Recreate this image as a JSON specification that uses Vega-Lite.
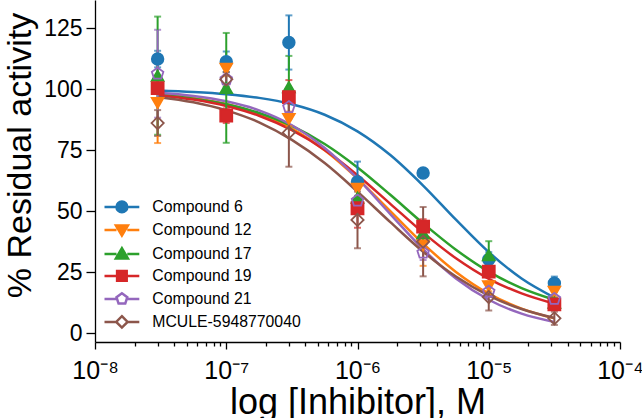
{
  "$schema": "https://vega.github.io/schema/vega-lite/v6.json",
  "autosize": "none",
  "width": 525,
  "height": 342,
  "padding": {"left": 95, "top": 0, "right": 22, "bottom": 76},
  "config": {
    "font": "Liberation Sans",
    "view": {"stroke": null},
    "axis": {"grid": false, "domainColor": "black", "domainWidth": 1.3, "tickColor": "black", "tickWidth": 1.3, "labelColor": "black", "titleColor": "black", "labelFont": "Liberation Sans", "titleFont": "Liberation Sans", "titleFontWeight": "normal"}
  },
  "datasets": {
    "pts": [
      {"c": "Compound 6", "x": 3e-8, "y": 112.3, "e": 3.4},
      {"c": "Compound 6", "x": 1e-7, "y": 111.2, "e": 4.2},
      {"c": "Compound 6", "x": 3e-7, "y": 119.1, "e": 11.1},
      {"c": "Compound 6", "x": 1e-6, "y": 62.0, "e": 8.3},
      {"c": "Compound 6", "x": 3.162e-6, "y": 65.6, "e": 1.0},
      {"c": "Compound 6", "x": 1e-5, "y": 30.2, "e": 3.0},
      {"c": "Compound 6", "x": 3.162e-5, "y": 20.5, "e": 2.7},
      {"c": "Compound 12", "x": 3e-8, "y": 94.3, "e": 16.4},
      {"c": "Compound 12", "x": 1e-7, "y": 108.3, "e": 3.0},
      {"c": "Compound 12", "x": 3e-7, "y": 87.8, "e": 3.0},
      {"c": "Compound 12", "x": 1e-6, "y": 59.2, "e": 3.0},
      {"c": "Compound 12", "x": 3.162e-6, "y": 36.0, "e": 8.4},
      {"c": "Compound 12", "x": 1e-5, "y": 19.2, "e": 2.0},
      {"c": "Compound 12", "x": 3.162e-5, "y": 17.0, "e": 2.0},
      {"c": "Compound 17", "x": 3e-8, "y": 105.5, "e": 24.2},
      {"c": "Compound 17", "x": 1e-7, "y": 100.5, "e": 22.5},
      {"c": "Compound 17", "x": 3e-7, "y": 100.8, "e": 12.8},
      {"c": "Compound 17", "x": 1e-6, "y": 55.5, "e": 4.0},
      {"c": "Compound 17", "x": 3.162e-6, "y": 41.0, "e": 2.0},
      {"c": "Compound 17", "x": 1e-5, "y": 32.0, "e": 5.7},
      {"c": "Compound 17", "x": 3.162e-5, "y": 12.5, "e": 2.0},
      {"c": "Compound 19", "x": 3e-8, "y": 100.4, "e": 2.0},
      {"c": "Compound 19", "x": 1e-7, "y": 89.1, "e": 3.0},
      {"c": "Compound 19", "x": 3e-7, "y": 96.7, "e": 7.0},
      {"c": "Compound 19", "x": 1e-6, "y": 51.2, "e": 8.0},
      {"c": "Compound 19", "x": 3.162e-6, "y": 43.7, "e": 3.0},
      {"c": "Compound 19", "x": 1e-5, "y": 25.2, "e": 2.0},
      {"c": "Compound 19", "x": 3.162e-5, "y": 11.8, "e": 2.0},
      {"c": "Compound 21", "x": 3e-8, "y": 106.3, "e": 18.0},
      {"c": "Compound 21", "x": 1e-7, "y": 104.0, "e": 2.0},
      {"c": "Compound 21", "x": 3e-7, "y": 92.6, "e": 3.0},
      {"c": "Compound 21", "x": 1e-6, "y": 54.3, "e": 2.0},
      {"c": "Compound 21", "x": 3.162e-6, "y": 33.0, "e": 3.0},
      {"c": "Compound 21", "x": 1e-5, "y": 17.0, "e": 2.0},
      {"c": "Compound 21", "x": 3.162e-5, "y": 14.0, "e": 3.0},
      {"c": "MCULE-5948770040", "x": 3e-8, "y": 86.1, "e": 5.3},
      {"c": "MCULE-5948770040", "x": 1e-7, "y": 104.0, "e": 3.0},
      {"c": "MCULE-5948770040", "x": 3e-7, "y": 82.2, "e": 14.0},
      {"c": "MCULE-5948770040", "x": 1e-6, "y": 46.4, "e": 11.6},
      {"c": "MCULE-5948770040", "x": 3.162e-6, "y": 37.5, "e": 14.2},
      {"c": "MCULE-5948770040", "x": 1e-5, "y": 14.8, "e": 5.5},
      {"c": "MCULE-5948770040", "x": 3.162e-5, "y": 6.1, "e": 2.7}
    ],
    "fit": [
      {"c": "Compound 6", "x": 3e-8, "y": 99.4},
      {"c": "Compound 6", "x": 5.623e-8, "y": 98.8},
      {"c": "Compound 6", "x": 1e-7, "y": 97.9},
      {"c": "Compound 6", "x": 1.778e-7, "y": 96.4},
      {"c": "Compound 6", "x": 3.162e-7, "y": 93.8},
      {"c": "Compound 6", "x": 5.623e-7, "y": 89.5},
      {"c": "Compound 6", "x": 1e-6, "y": 82.7},
      {"c": "Compound 6", "x": 1.778e-6, "y": 73.0},
      {"c": "Compound 6", "x": 3.162e-6, "y": 60.5},
      {"c": "Compound 6", "x": 5.623e-6, "y": 46.5},
      {"c": "Compound 6", "x": 1e-5, "y": 33.2},
      {"c": "Compound 6", "x": 1.778e-5, "y": 22.4},
      {"c": "Compound 6", "x": 3.162e-5, "y": 14.6},
      {"c": "Compound 12", "x": 3e-8, "y": 98.0},
      {"c": "Compound 12", "x": 5.623e-8, "y": 96.4},
      {"c": "Compound 12", "x": 1e-7, "y": 93.9},
      {"c": "Compound 12", "x": 1.778e-7, "y": 89.9},
      {"c": "Compound 12", "x": 3.162e-7, "y": 83.8},
      {"c": "Compound 12", "x": 5.623e-7, "y": 74.9},
      {"c": "Compound 12", "x": 1e-6, "y": 63.3},
      {"c": "Compound 12", "x": 1.778e-6, "y": 50.0},
      {"c": "Compound 12", "x": 3.162e-6, "y": 36.7},
      {"c": "Compound 12", "x": 5.623e-6, "y": 25.1},
      {"c": "Compound 12", "x": 1e-5, "y": 16.2},
      {"c": "Compound 12", "x": 1.778e-5, "y": 10.1},
      {"c": "Compound 12", "x": 3.162e-5, "y": 6.1},
      {"c": "Compound 17", "x": 3e-8, "y": 97.7},
      {"c": "Compound 17", "x": 5.623e-8, "y": 96.1},
      {"c": "Compound 17", "x": 1e-7, "y": 93.8},
      {"c": "Compound 17", "x": 1.778e-7, "y": 90.2},
      {"c": "Compound 17", "x": 3.162e-7, "y": 84.9},
      {"c": "Compound 17", "x": 5.623e-7, "y": 77.5},
      {"c": "Compound 17", "x": 1e-6, "y": 67.9},
      {"c": "Compound 17", "x": 1.778e-6, "y": 56.7},
      {"c": "Compound 17", "x": 3.162e-6, "y": 45.0},
      {"c": "Compound 17", "x": 5.623e-6, "y": 34.2},
      {"c": "Compound 17", "x": 1e-5, "y": 25.2},
      {"c": "Compound 17", "x": 1.778e-5, "y": 18.5},
      {"c": "Compound 17", "x": 3.162e-5, "y": 13.7},
      {"c": "Compound 19", "x": 3e-8, "y": 97.5},
      {"c": "Compound 19", "x": 5.623e-8, "y": 95.7},
      {"c": "Compound 19", "x": 1e-7, "y": 93.1},
      {"c": "Compound 19", "x": 1.778e-7, "y": 89.1},
      {"c": "Compound 19", "x": 3.162e-7, "y": 83.2},
      {"c": "Compound 19", "x": 5.623e-7, "y": 75.1},
      {"c": "Compound 19", "x": 1e-6, "y": 64.7},
      {"c": "Compound 19", "x": 1.778e-6, "y": 53.0},
      {"c": "Compound 19", "x": 3.162e-6, "y": 41.2},
      {"c": "Compound 19", "x": 5.623e-6, "y": 30.7},
      {"c": "Compound 19", "x": 1e-5, "y": 22.3},
      {"c": "Compound 19", "x": 1.778e-5, "y": 16.3},
      {"c": "Compound 19", "x": 3.162e-5, "y": 12.1},
      {"c": "Compound 21", "x": 3e-8, "y": 98.5},
      {"c": "Compound 21", "x": 5.623e-8, "y": 97.2},
      {"c": "Compound 21", "x": 1e-7, "y": 95.0},
      {"c": "Compound 21", "x": 1.778e-7, "y": 91.3},
      {"c": "Compound 21", "x": 3.162e-7, "y": 85.2},
      {"c": "Compound 21", "x": 5.623e-7, "y": 75.9},
      {"c": "Compound 21", "x": 1e-6, "y": 63.4},
      {"c": "Compound 21", "x": 1.778e-6, "y": 48.8},
      {"c": "Compound 21", "x": 3.162e-6, "y": 34.4},
      {"c": "Compound 21", "x": 5.623e-6, "y": 22.4},
      {"c": "Compound 21", "x": 1e-5, "y": 13.7},
      {"c": "Compound 21", "x": 1.778e-5, "y": 8.0},
      {"c": "Compound 21", "x": 3.162e-5, "y": 4.6},
      {"c": "MCULE-5948770040", "x": 3e-8, "y": 96.8},
      {"c": "MCULE-5948770040", "x": 5.623e-8, "y": 94.6},
      {"c": "MCULE-5948770040", "x": 1e-7, "y": 91.3},
      {"c": "MCULE-5948770040", "x": 1.778e-7, "y": 86.4},
      {"c": "MCULE-5948770040", "x": 3.162e-7, "y": 79.2},
      {"c": "MCULE-5948770040", "x": 5.623e-7, "y": 69.7},
      {"c": "MCULE-5948770040", "x": 1e-6, "y": 58.0},
      {"c": "MCULE-5948770040", "x": 1.778e-6, "y": 45.5},
      {"c": "MCULE-5948770040", "x": 3.162e-6, "y": 33.4},
      {"c": "MCULE-5948770040", "x": 5.623e-6, "y": 23.2},
      {"c": "MCULE-5948770040", "x": 1e-5, "y": 15.4},
      {"c": "MCULE-5948770040", "x": 1.778e-5, "y": 9.9},
      {"c": "MCULE-5948770040", "x": 3.162e-5, "y": 6.2}
    ]
  },
  "encoding": {
    "x": {
      "field": "x", "type": "quantitative",
      "scale": {"type": "log", "domain": [1e-8, 1e-4], "nice": false},
      "axis": {
        "title": "log [Inhibitor], M",
        "titleFontSize": 36, "titleY": 71, "titleBaseline": "alphabetic",
        "values": [1e-8, 2e-8, 3e-8, 4e-8, 5e-8, 6e-8, 7e-8, 8e-8, 9e-8, 1e-7, 2e-7, 3e-7, 4e-7, 5e-7, 6e-7, 7e-7, 8e-7, 9e-7, 1e-6, 2e-6, 3e-6, 4e-6, 5e-6, 6e-6, 7e-6, 8e-6, 9e-6, 1e-5, 2e-5, 3e-5, 4e-5, 5e-5, 6e-5, 7e-5, 8e-5, 9e-5, 1e-4],
        "labelExpr": "abs(log(datum.value)/LN10 - round(log(datum.value)/LN10)) > 0.001 ? '' : round(log(datum.value)/LN10) == -8 ? '10⁻⁸' : round(log(datum.value)/LN10) == -7 ? '10⁻⁷' : round(log(datum.value)/LN10) == -6 ? '10⁻⁶' : round(log(datum.value)/LN10) == -5 ? '10⁻⁵' : '10⁻⁴'",
        "labelFontSize": 25, "labelOverlap": false, "labelFlush": false, "labelPadding": 9,
        "tickSize": {"condition": {"test": "abs(log(datum.value)/LN10 - round(log(datum.value)/LN10)) < 0.001", "value": 7}, "value": 4}
      }
    },
    "y": {
      "field": "y", "type": "quantitative",
      "scale": {"domain": [-3.6, 136.5], "nice": false, "zero": false},
      "axis": {
        "title": "% Residual activity",
        "titleFontSize": 34, "titleX": -65, "titleY": 155, "titleBaseline": "alphabetic", "titleAlign": "center",
        "values": [0, 25, 50, 75, 100, 125],
        "labelFontSize": 23, "tickSize": 9, "labelPadding": 4
      }
    }
  },
  "layer": [
    {
      "data": {"name": "fit"},
      "mark": {"type": "line", "strokeWidth": 2.5, "interpolate": "monotone", "clip": true},
      "encoding": {
        "detail": {"field": "c"},
        "color": {"field": "c", "type": "nominal", "legend": null,
          "scale": {"domain": ["Compound 6", "Compound 12", "Compound 17", "Compound 19", "Compound 21", "MCULE-5948770040"], "range": ["#1f77b4", "#ff7f0e", "#2ca02c", "#d62728", "#9467bd", "#8c564b"]}}
      }
    },
    {
      "data": {"name": "pts"},
      "mark": {"type": "errorbar", "ticks": {"size": 7, "thickness": 2}, "rule": {"strokeWidth": 2}},
      "encoding": {
        "yError": {"field": "e"},
        "color": {"field": "c", "type": "nominal", "legend": null}
      }
    },
    {
      "data": {"name": "pts"},
      "mark": {"type": "point", "filled": true, "strokeWidth": 1.8, "opacity": 1},
      "encoding": {
        "shape": {"field": "c", "type": "nominal", "legend": null,
          "scale": {"domain": ["Compound 6", "Compound 12", "Compound 17", "Compound 19", "Compound 21", "MCULE-5948770040"], "range": ["circle", "triangle-down", "triangle-up", "square", "M0,-1L0.951,-0.309L0.588,0.809L-0.588,0.809L-0.951,-0.309Z", "diamond"]}},
        "fill": {"field": "c", "type": "nominal", "legend": null,
          "scale": {"domain": ["Compound 6", "Compound 12", "Compound 17", "Compound 19", "Compound 21", "MCULE-5948770040"], "range": ["#1f77b4", "#ff7f0e", "#2ca02c", "#d62728", "transparent", "transparent"]}},
        "stroke": {"field": "c", "type": "nominal", "legend": null,
          "scale": {"domain": ["Compound 6", "Compound 12", "Compound 17", "Compound 19", "Compound 21", "MCULE-5948770040"], "range": ["#1f77b4", "#ff7f0e", "#2ca02c", "#d62728", "#9467bd", "#8c564b"]}},
        "size": {"field": "c", "type": "nominal", "legend": null,
          "scale": {"domain": ["Compound 6", "Compound 12", "Compound 17", "Compound 19", "Compound 21", "MCULE-5948770040"], "range": [135, 150, 150, 115, 150, 165]}}
      }
    },
    {
      "data": {"name": "pts"},
      "mark": {"type": "point", "filled": true, "opacity": 0},
      "encoding": {
        "shape": {"field": "c", "type": "nominal",
          "scale": {"domain": ["Compound 6", "Compound 12", "Compound 17", "Compound 19", "Compound 21", "MCULE-5948770040"], "range": [
            "M-2.9,0H-0.9M0.9,0H2.9M-0.9,0A0.9,0.9 0 1,0 0.9,0A0.9,0.9 0 1,0 -0.9,0Z",
            "M-2.9,0H-0.9M0.9,0H2.9M-1,-0.75H1L0,0.95Z",
            "M-2.9,0H-0.9M0.9,0H2.9M-1,0.75H1L0,-0.95Z",
            "M-2.9,0H-0.8M0.8,0H2.9M-0.8,-0.8H0.8V0.8H-0.8Z",
            "M-2.9,0H-0.9M0.9,0H2.9M0,-0.95L0.9,-0.29L0.56,0.77L-0.56,0.77L-0.9,-0.29Z",
            "M-2.9,0H-0.95M0.95,0H2.9M0,-0.95L0.95,0L0,0.95L-0.95,0Z"]},
          "legend": {"title": null, "orient": "none", "legendX": 19, "legendY": 199, "padding": 0, "labelFont": "Liberation Sans", "labelFontSize": 15.8, "labelColor": "black", "symbolSize": 144, "symbolStrokeWidth": 2.5, "symbolOpacity": 1, "rowPadding": 2, "labelOffset": 22.5}},
        "fill": {"field": "c", "type": "nominal",
          "scale": {"domain": ["Compound 6", "Compound 12", "Compound 17", "Compound 19", "Compound 21", "MCULE-5948770040"], "range": ["#1f77b4", "#ff7f0e", "#2ca02c", "#d62728", "white", "white"]},
          "legend": {"title": null, "orient": "none", "legendX": 19, "legendY": 199, "padding": 0, "labelFont": "Liberation Sans", "labelFontSize": 15.8, "labelColor": "black", "symbolSize": 144, "symbolStrokeWidth": 2.5, "symbolOpacity": 1, "rowPadding": 2, "labelOffset": 22.5}},
        "stroke": {"field": "c", "type": "nominal",
          "scale": {"domain": ["Compound 6", "Compound 12", "Compound 17", "Compound 19", "Compound 21", "MCULE-5948770040"], "range": ["#1f77b4", "#ff7f0e", "#2ca02c", "#d62728", "#9467bd", "#8c564b"]},
          "legend": {"title": null, "orient": "none", "legendX": 19, "legendY": 199, "padding": 0, "labelFont": "Liberation Sans", "labelFontSize": 15.8, "labelColor": "black", "symbolSize": 144, "symbolStrokeWidth": 2.5, "symbolOpacity": 1, "rowPadding": 2, "labelOffset": 22.5}}
      }
    }
  ],
  "resolve": {"scale": {"shape": "independent", "fill": "independent", "stroke": "independent", "size": "independent"}}
}
